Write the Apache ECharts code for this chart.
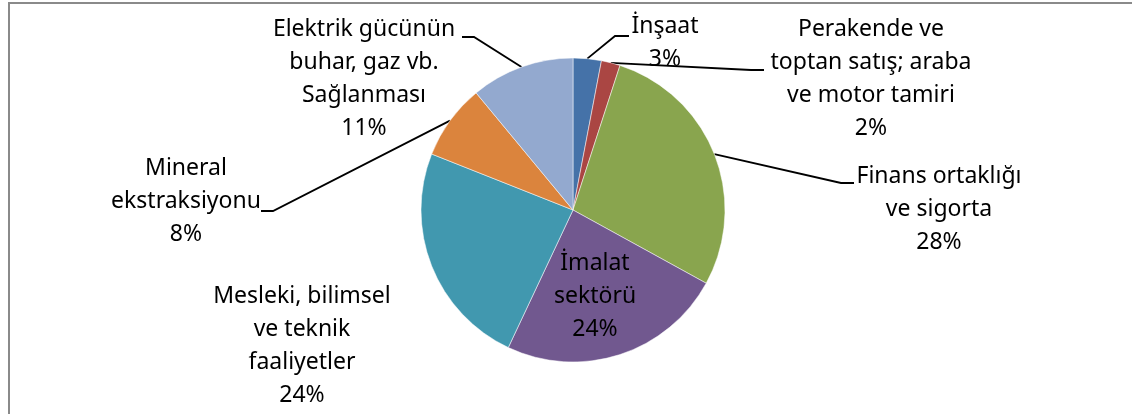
<!DOCTYPE html>
<html>
<head>
<meta charset="utf-8">
<script src="https://cdn.jsdelivr.net/npm/echarts@6/dist/echarts.min.js"></script>
<style>
  html, body { margin: 0; padding: 0; background: #fff; }
  #chart { width: 1132px; height: 414px; }
  .frame {
    position: absolute; left: 8px; top: 2px; right: -10px; bottom: -10px;
    border-left: 2px solid #8a8a8a; border-top: 2px solid #8a8a8a;
    pointer-events: none;
  }
</style>
</head>
<body>
<div id="chart"></div>
<div class="frame"></div>
<script>
  // sectors, clockwise from 12 o'clock
  var sectors = [
    'İnşaat',
    'Perakende ve\ntoptan satış; araba\nve motor tamiri',
    'Finans ortaklığı\nve sigorta',
    'İmalat\nsektörü',
    'Mesleki, bilimsel\nve teknik\nfaaliyetler',
    'Mineral\nekstraksiyonu',
    'Elektrik gücünün\nbuhar, gaz vb.\nSağlanması'
  ]
  var shares = [3, 2, 28, 24, 24, 8, 11]
  var colors = ['#4572A8', '#AA4643', '#89A54E', '#71588F', '#4198AF', '#DB843D', '#93A9CF']

  // label block centres and leader line (elbow, end), in px
  var labelSpots = [[665, 43], [871, 79], [939, 209], [595, 296], [302, 346], [186, 201], [364, 79]]
  var leaders = [
    [[615, 36], [629, 36]],
    [[751, 70], [764, 70]],
    [[841, 183], [854, 183]],
    null,
    null,
    [[273, 211], [261, 211]],
    [[474, 37], [462, 37]]
  ]

  var chart = echarts.init(document.getElementById('chart'))

  var data = sectors.map(function (name, i) {
    var item = { name: name, value: shares[i], itemStyle: { color: colors[i] } }
    if (!leaders[i]) item.labelLine = { show: false }
    if (i === 3) item.label = { position: 'inside' }
    return item
  })

  var option = {
    animation: false,
    series: [{
      type: 'pie',
      center: [573, 210],
      radius: 152,
      startAngle: 90,
      clockwise: true,
      avoidLabelOverlap: false,
      itemStyle: { borderColor: '#fff', borderWidth: 0.5 },
      label: {
        show: true,
        position: 'outside',
        formatter: '{b}\n{c}%',
        fontFamily: 'Noto Sans',
        fontSize: 23,
        lineHeight: 33,
        color: '#000',
        align: 'center'
      },
      labelLine: {
        show: true,
        lineStyle: { color: '#000', width: 1.8 }
      },
      labelLayout: function (params) {
        var i = params.dataIndex
        var out = {
          x: labelSpots[i][0],
          y: labelSpots[i][1],
          align: 'center',
          verticalAlign: 'middle'
        }
        if (leaders[i] && params.labelLinePoints) {
          out.labelLinePoints = [params.labelLinePoints[0], leaders[i][0], leaders[i][1]]
        }
        return out
      },
      data: data
    }]
  }

  chart.setOption(option)
</script>
</body>
</html>
